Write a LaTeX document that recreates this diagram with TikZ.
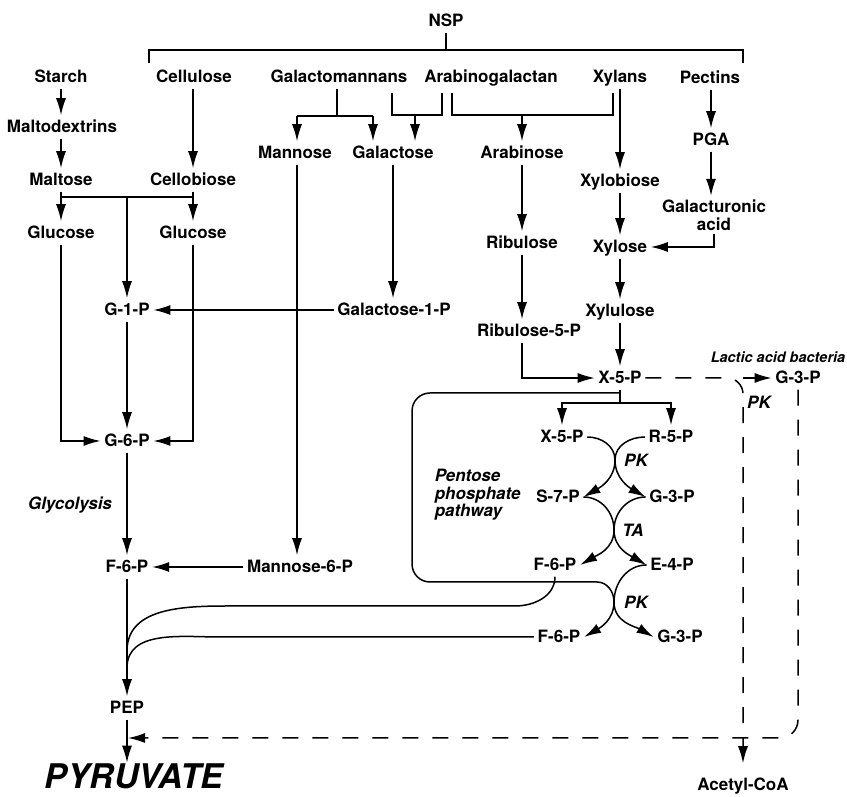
\documentclass[tikz,border=0pt]{standalone}
\usepackage{fontspec}
\setmainfont{TeX Gyre Heros}
\usetikzlibrary{arrows.meta}

\tikzset{
  met/.style={inner xsep=3pt, inner ysep=5pt, text height=12pt, text depth=0pt,
    font=\fontsize{17}{18}\selectfont\bfseries},
  metwrap/.style={inner sep=3pt, align=center, font=\fontsize{17}{18}\selectfont\bfseries},
  note/.style={inner sep=1pt, font=\fontsize{17}{17.5}\selectfont\bfseries\itshape},
  flow/.style={-{Latex[length=17pt,width=10pt]}},
  lactic/.style={dash pattern=on 16pt off 14pt},
}

\begin{document}
\begin{tikzpicture}[x=1pt,y=1pt,line width=1.5pt]
\useasboundingbox (0,0) rectangle (847,797);

% polysaccharides
\node[met] (nsp) at (446,776) {NSP};
\node[met] (starch) at (61,720) {Starch};
\node[met] (cellulose) at (194,720) {Cellulose};
\node[met] (galman) at (339,720) {Galactomannans};
\node[met] (arabgal) at (491,720) {Arabinogalactan};
\node[met] (xylans) at (620,720) {Xylans};
\node[met] (pectins) at (710,719) {Pectins};

% glycolysis side
\node[met] (maltodex) at (62,670) {Maltodextrins};
\node[met] (maltose) at (61,617) {Maltose};
\node[met] (cellobiose) at (193,617) {Cellobiose};
\node[met] (glucoseL) at (61,564) {Glucose};
\node[met] (glucoseR) at (193,564) {Glucose};
\node[met] (g1p) at (127,487) {G-1-P};
\node[met] (g6p) at (127,356) {G-6-P};
\node[met] (f6p) at (127,230) {F-6-P};
\node[met] (pep) at (127,89) {PEP};
\node[inner sep=0pt, text height=25pt, text depth=0pt,
  font=\fontsize{34}{34}\selectfont\bfseries\itshape] (pyruvate) at (134,21) {PYRUVATE};

\node[met] (mannose) at (295,644) {Mannose};
\node[met] (galactose) at (393,644) {Galactose};
\node[met] (gal1p) at (394,487) {Galactose-1-P};
\node[met] (man6p) at (300,230) {Mannose-6-P};

% pentoses
\node[met] (arabinose) at (522,644) {Arabinose};
\node[met] (ribulose) at (522,554) {Ribulose};
\node[met] (ribu5p) at (529,466) {Ribulose-5-P};
\node[met] (xylobiose) at (620,616) {Xylobiose};
\node[met] (xylose) at (620,550) {Xylose};
\node[met] (xylulose) at (620,486) {Xylulose};
\node[met] (x5p) at (620,419) {X-5-P};
\node[met] (pga) at (711,657) {PGA};
\node[metwrap] (galacturonic) at (714,582) {Galacturonic\\acid};

\node[met] (x5pP) at (562,360) {X-5-P};
\node[met] (r5p) at (671,360) {R-5-P};
\node[met] (s7p) at (558,300) {S-7-P};
\node[met] (g3pA) at (672,300) {G-3-P};
\node[met] (f6pA) at (555,232) {F-6-P};
\node[met] (e4p) at (672,232) {E-4-P};
\node[met] (f6pB) at (559,160) {F-6-P};
\node[met] (g3pB) at (680,160) {G-3-P};

\node[met] (g3pLab) at (798,419) {G-3-P};
\node[met] (acetyl) at (743,12) {Acetyl-CoA};

% labels
\node[note] (glyco) at (70,292) {Glycolysis};
\node[note, anchor=west, align=left] (ppp) at (433,302) {Pentose\\phosphate\\pathway};
\node[note] (pk1) at (636,337) {PK};
\node[note] (ta) at (633,267) {TA};
\node[note] (pk2) at (636,195) {PK};
\node[note] (pk3) at (759,395) {PK};
\node[note, anchor=west, font=\fontsize{14.5}{15}\selectfont\bfseries\itshape] (lactic) at (709,440) {Lactic acid bacteria};

% bends and junctions
\coordinate (brTop) at (446,747);
\coordinate (brL) at (149,734);
\coordinate (brR) at (743,734);
\coordinate (gmBar) at (337,681);
\coordinate (gmL) at (297,681);
\coordinate (gmR) at (373,681);
\coordinate (agL) at (392,704);
\coordinate (agR) at (442,704);
\coordinate (agMid) at (415,682);
\coordinate (abL) at (452,704);
\coordinate (abR) at (613,704);
\coordinate (abMid) at (522,682);
\coordinate (split1) at (127,600);
\coordinate (boxTop) at (620,404);
\coordinate (ppSplit) at (620,394);
\coordinate (boxBL) at (412,215);
\coordinate (boxBR) at (597,215);
\coordinate (crossA) at (615,337);
\coordinate (crossB) at (614,267);
\coordinate (crossC) at (614,195);
\coordinate (f6pBend) at (515,191);
\coordinate (f6pRun) at (235,191);
\coordinate (glyUp) at (127,146);
\coordinate (f6pRunB) at (220,160);
\coordinate (glyLo) at (127,129);
\coordinate (pepJoin) at (128,59);

% NSP bracket
\draw (nsp.south) -- (brTop);
\draw (brL) |- (brTop) -| (brR);

% starch and cellulose
\draw[flow] (starch) -- (starch |- maltodex.north);
\draw[flow] (starch |- maltodex.south) -- (maltose);
\draw[flow] (cellulose.south -| cellobiose) -- (cellobiose);
\draw[flow] (maltose) -- (glucoseL);
\draw[flow] (cellobiose) -- (glucoseR);
\draw (maltose |- split1) -- (cellobiose |- split1);
\draw[flow] (split1) -- (g1p);
\draw[flow] (glucoseL) |- (g6p);
\draw[flow] (glucoseR) |- (g6p);
\draw[flow] (g1p) -- (g6p);
\draw[flow] (gal1p) -- (g1p);
\draw[flow] (g6p) -- (f6p);
\draw[flow] (man6p) -- (f6p);
\draw[flow] (f6p) -- (pep);
\draw[flow] (pep) -- (pep |- pyruvate.north);

% galactomannans and arabinogalactan
\draw (galman.south -| gmBar) -- (gmBar);
\draw (gmL) -- (gmR);
\draw[flow] (gmL) -- (gmL |- mannose.north);
\draw[flow] (gmR) -- (gmR |- galactose.north);
\draw (agL) |- (agMid) -| (agR);
\draw[flow] (agMid) -- (agMid |- galactose.north);
\draw (abL) |- (abMid) -| (abR);
\draw[flow] (abMid) -- (arabinose);
\draw[flow] (mannose.south -| gmL) -- (gmL |- man6p.north);
\draw[flow] (galactose) -- (galactose |- gal1p.north);

% arabinose and xylans
\draw[flow] (arabinose) -- (ribulose);
\draw[flow] (ribulose) -- (ribulose |- ribu5p.north);
\draw[flow] (ribulose |- ribu5p.south) |- (x5p);
\draw[flow] (xylans) -- (xylobiose);
\draw[flow] (xylobiose) -- (xylose);
\draw[flow] (xylose) -- (xylulose);
\draw[flow] (xylulose) -- (x5p);

% pectins
\draw[flow] (pectins.south -| pga) -- (pga);
\draw[flow] (pga) -- (pga |- galacturonic.north);
\draw[flow] (galacturonic) |- (xylose);

% pentose phosphate pathway
\draw (x5p) -- (ppSplit);
\draw[flow] (ppSplit) -| (x5pP);
\draw[flow] (ppSplit) -| (r5p);
\draw[rounded corners=18pt] (boxTop) -| (boxBL) -- (boxBR);
\draw[flow] (boxBR) to[out=0,in=90] (crossC) to[out=-90,in=30] (f6pB.east);
\draw[flow] (x5pP.east) to[out=0,in=90] (crossA) to[out=-90,in=30] (s7p.east);
\draw[flow] (r5p.west) to[out=180,in=90] (crossA) to[out=-90,in=150] (g3pA.west);
\draw[flow] (s7p.east) to[out=0,in=90] (crossB) to[out=-90,in=30] (f6pA.east);
\draw[flow] (g3pA.west) to[out=180,in=90] (crossB) to[out=-90,in=150] (e4p.west);
\draw[flow] (e4p.west) to[out=180,in=90] (crossC) to[out=-90,in=150] (g3pB.west);

% back into glycolysis
\draw (f6pA.south) to[out=-90,in=0] (f6pBend) -- (f6pRun) to[out=180,in=90] (glyUp);
\draw (f6pB.west) -- (f6pRunB) to[out=180,in=90] (glyLo);

% phosphoketolase route
\draw[lactic, flow, rounded corners=16pt, shorten >=10pt] (x5p.east) -| (acetyl);
\draw[lactic, flow] (x5p.east -| acetyl) -- (g3pLab);
\draw[lactic, flow, rounded corners=18pt] (g3pLab) |- (pepJoin);

\end{tikzpicture}
\end{document}
